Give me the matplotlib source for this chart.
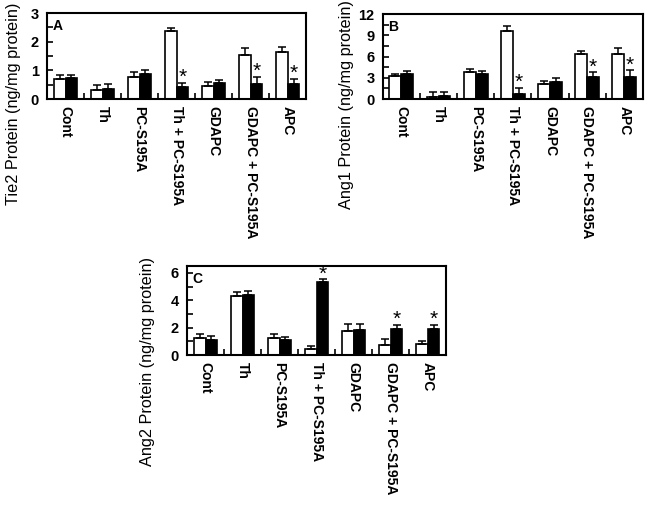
import numpy as np
import matplotlib
matplotlib.use("Agg")
import matplotlib.pyplot as plt
from matplotlib.ticker import MultipleLocator

plt.rcParams['font.family'] = ['Liberation Sans', 'DejaVu Sans']

groups = ["Cont", "Th", "PC-S195A", "Th + PC-S195A", "GDAPC",
          "GDAPC + PC-S195A", "APC"]

# Tie2 (panel A)
tie2_white = [0.71, 0.31, 0.76, 2.36, 0.47, 1.55, 1.65]
tie2_white_err = [0.12, 0.19, 0.17, 0.12, 0.11, 0.22, 0.16]
tie2_black = [0.72, 0.35, 0.86, 0.41, 0.57, 0.53, 0.53]
tie2_black_err = [0.13, 0.17, 0.16, 0.15, 0.10, 0.24, 0.17]
tie2_star = [3, 5, 6]

# Ang1 (panel B)
ang1_white = [3.19, 0.33, 3.80, 9.60, 2.10, 6.33, 6.33]
ang1_white_err = [0.37, 0.70, 0.42, 0.70, 0.50, 0.51, 0.84]
ang1_black = [3.56, 0.42, 3.47, 0.75, 2.34, 3.14, 3.14]
ang1_black_err = [0.42, 0.61, 0.51, 0.80, 0.56, 0.61, 0.89]
ang1_star = [3, 5, 6]

# Ang2 (panel C)
ang2_white = [1.22, 4.33, 1.22, 0.44, 1.75, 0.75, 0.78]
ang2_white_err = [0.34, 0.27, 0.28, 0.24, 0.49, 0.39, 0.27]
ang2_black = [1.12, 4.40, 1.12, 5.30, 1.82, 1.87, 1.87]
ang2_black_err = [0.29, 0.30, 0.22, 0.22, 0.44, 0.34, 0.30]
ang2_star = [3, 5, 6]

fig = plt.figure(figsize=(6.51, 5.16), dpi=100)


def panel(rect, white, werr, black, berr, stars, ymax, major, minor,
          ylabel, letter, label_x, label_y):
    ax = fig.add_axes(rect)
    x = np.arange(len(groups))
    w = 0.32
    ax.bar(x - w / 2, white, w, color="white", edgecolor="black", linewidth=1.2)
    ax.bar(x + w / 2, black, w, color="black", edgecolor="black", linewidth=1.2)
    ax.errorbar(x - w / 2, white, yerr=[np.zeros(len(x)), werr], fmt="none",
                ecolor="black", elinewidth=1.1, capsize=3, capthick=1.1)
    ax.errorbar(x + w / 2, black, yerr=[np.zeros(len(x)), berr], fmt="none",
                ecolor="black", elinewidth=1.1, capsize=3, capthick=1.1)
    # star sits a few px above the error cap
    h_px = rect[3] * 516
    for i in stars:
        ax.text(x[i] + w / 2, black[i] + berr[i] + ymax * 5.5 / h_px, "*",
                ha="center", va="center", fontsize=15)
    ax.set_xlim(-0.5, len(groups) - 0.5)
    ax.set_ylim(0, ymax)
    ax.set_xticks(x)
    ax.set_xticklabels(groups, rotation=270, fontsize=10, fontweight="bold",
                       va="top", ha="center")
    ax.set_xticks(np.arange(0.5, len(groups) - 1, 1), minor=True)
    ax.tick_params(axis="x", which="major", length=0, pad=5)
    ax.tick_params(axis="x", which="minor", direction="in", length=4, width=1.2)
    ax.yaxis.set_major_locator(MultipleLocator(major))
    ax.yaxis.set_minor_locator(MultipleLocator(minor))
    ax.tick_params(axis="y", which="both", direction="in", length=4, width=1.2,
                   labelsize=10.5, pad=6)
    for t in ax.get_yticklabels():
        t.set_fontweight("bold")
    for s in ax.spines.values():
        s.set_linewidth(1.5)
    ax.set_ylabel(ylabel, fontsize=11.7)
    ax.yaxis.set_label_coords(label_x, label_y)
    ax.text(0.02, 0.93, letter, transform=ax.transAxes, fontsize=10,
            fontweight="bold", va="top", ha="left")
    return ax


panel([0.0722, 0.8081, 0.398, 0.1667], tie2_white, tie2_white_err,
      tie2_black, tie2_black_err, tie2_star, 3, 1, 0.5,
      "Tie2 Protein (ng/mg protein)", "A", -0.1, -0.058)
panel([0.588, 0.8081, 0.3994, 0.1647], ang1_white, ang1_white_err,
      ang1_black, ang1_black_err, ang1_star, 12, 3, 1.5,
      "Ang1 Protein (ng/mg protein)", "B", -0.11, -0.06)
panel([0.2873, 0.312, 0.398, 0.1725], ang2_white, ang2_white_err,
      ang2_black, ang2_black_err, ang2_star, 6.5, 2, 1,
      "Ang2 Protein (ng/mg protein)", "C", -0.125, -0.073)

fig.savefig("out.png", dpi=100)
